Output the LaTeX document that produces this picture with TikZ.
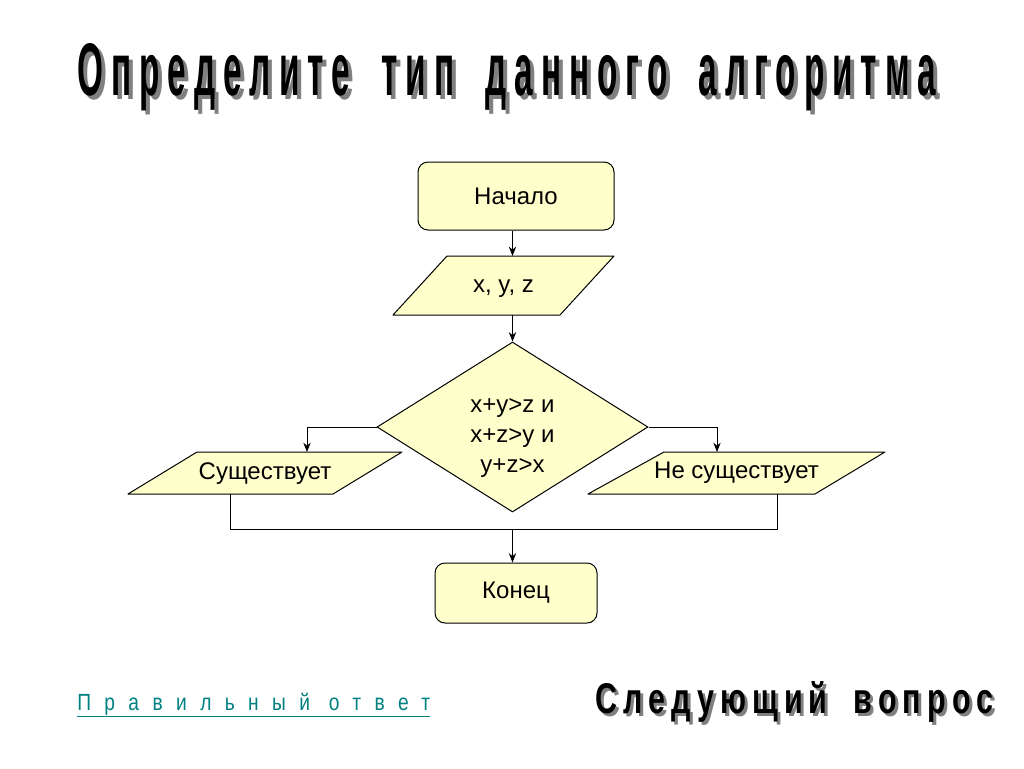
\documentclass[tikz,border=0pt]{standalone}
\usepackage{fontspec}
\setmainfont{Liberation Sans}
\newfontfamily\titlefont[LetterSpace=24,WordSpace=1.8]{Liberation Sans Bold}
\newfontfamily\nextfont[LetterSpace=20,WordSpace=1.8]{Liberation Sans Bold}
\newfontfamily\linkfont[LetterSpace=70]{Liberation Sans}
\usepackage{tikz}
\usetikzlibrary{shapes.geometric}
\usetikzlibrary{arrows.meta}
\usepackage{xcolor}
\definecolor{boxfill}{RGB}{255,255,204}
\definecolor{linkcol}{RGB}{0,128,128}
\definecolor{shadowcol}{RGB}{128,128,128}

\begin{document}
\begin{tikzpicture}[x=0.75pt,y=-0.75pt,
  every node/.style={font=\fontsize{18}{22.5}\selectfont},
  term/.style={draw,fill=boxfill,rounded corners=7.5pt,line width=0.75pt},
  datashape/.style={draw,fill=boxfill,line width=0.75pt,line join=round},
  cond/.style={draw,fill=boxfill,diamond,inner sep=0pt,line width=0.75pt},
  arr/.style={-{Stealth[length=7pt,width=5.5pt]},line width=0.75pt},
  headline/.style={anchor=base west,inner sep=0pt}]
  \useasboundingbox (0,0) rectangle (1024,768);

  % title with its shadow
  \node[headline,text=shadowcol] (titleshadow) at (81,99) {\resizebox{644pt}{39pt}{\titlefont Определите тип данного алгоритма}};
  \node[headline] (title) at (77,95) {\resizebox{644pt}{39pt}{\titlefont Определите тип данного алгоритма}};

  % flowchart
  \draw[datashape] (447,256) -- (614,256) -- (560,315) -- (393,315) -- cycle;
  \draw[datashape] (197,452) -- (402,452) -- (333,494) -- (128,494) -- cycle;
  \draw[datashape] (664,452) -- (885,452) -- (815,494) -- (588,494) -- cycle;

  \node[term,minimum width=147pt,minimum height=51pt] (start) at (516,196) {Начало};
  \node (io) at (503.5,289) {x, y, z};
  \node[cond,minimum width=203.25pt,minimum height=127.5pt] (dec) at (512.5,427) {};
  \node[align=center] (dectext) at (512.5,438) {x+y>z и\\x+z>y и\\y+z>x};
  \node (yes) at (265,474) {Существует};
  \node (no) at (736.5,473) {Не существует};
  \node[term,minimum width=121.5pt,minimum height=45pt] (stop) at (516,593) {Конец};

  \coordinate (iotop) at (512.5,256);
  \coordinate (iobot) at (512.5,315);
  \coordinate (yesin) at (307,452);
  \coordinate (noin) at (717,452);
  \coordinate (yesout) at (230.5,494);
  \coordinate (noout) at (777,494);
  \coordinate (join) at (512.5,529);

  \draw[arr] (iotop |- start.south) -- (iotop);
  \draw[arr] (iobot) -- (dec.north);
  \draw[arr] (dec.west) -| (yesin);
  \draw[arr] (dec.east) -| (noin);
  \draw[line width=0.75pt] (yesout) |- (join) -| (noout);
  \draw[arr] (join) -- (join |- stop.north);

  % links at the bottom
  \node[headline,text=linkcol] (answer) at (77,710) {\resizebox{264.75pt}{13pt}{\linkfont\underline{Правильный ответ}}};
  \node[headline,text=shadowcol] (nextshadow) at (598,716) {\resizebox{298.5pt}{24pt}{\nextfont Следующий вопрос}};
  \node[headline] (next) at (595,713) {\resizebox{298.5pt}{24pt}{\nextfont Следующий вопрос}};
\end{tikzpicture}
\end{document}
